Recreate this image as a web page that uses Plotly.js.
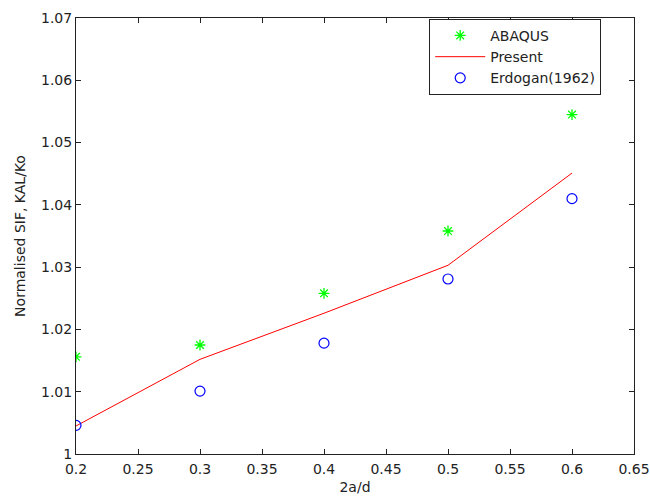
<!DOCTYPE html>
<html><head><meta charset="utf-8">
<script src="https://cdn.plot.ly/plotly-3.0.1.min.js"></script>
<style>html,body{margin:0;padding:0;background:#fff}#c{width:650px;height:502px}</style>
</head><body><div id="c"></div>
<script>
const xVals = [0.2, 0.3, 0.4, 0.5, 0.6];
const abaqus = [1.0156, 1.0175, 1.0258, 1.0358, 1.0545];
const present = [1.0045, 1.0152, 1.0226, 1.0303, 1.0451];
const erdogan = [1.0046, 1.0101, 1.0178, 1.0281, 1.0410];
const xTicks = [0.2,0.25,0.3,0.35,0.4,0.45,0.5,0.55,0.6,0.65];
const yTicks = [1,1.01,1.02,1.03,1.04,1.05,1.06,1.07];

const traces = [
 {x:xVals,y:abaqus,name:'ABAQUS',mode:'markers',type:'scatter',
  marker:{symbol:'asterisk-open',size:9,color:'#00ff00',line:{color:'#00ff00',width:1.3}}},
 {x:xVals,y:present,name:'Present',mode:'lines',type:'scatter',
  line:{color:'#ff0000',width:1}},
 {x:xVals,y:erdogan,name:'Erdogan(1962)',mode:'markers',type:'scatter',
  marker:{symbol:'circle-open',size:10,color:'#0000ff',line:{color:'#0000ff',width:1.2}}}
];
const F = 'DejaVu Sans';
const axisCommon = {showgrid:false,zeroline:false,showline:true,linecolor:'#222',linewidth:1,
  mirror:'ticks',ticks:'inside',ticklen:5,tickcolor:'#222',
  tickfont:{family:F,size:14,color:'#222'}};
const layout = {
 width:650,height:502,margin:{l:76,r:16,t:18,b:48},
 paper_bgcolor:'#fff',plot_bgcolor:'#fff',showlegend:true,
 font:{family:F,size:14,color:'#222'},
 xaxis:Object.assign({},axisCommon,{range:[0.2,0.65],tickvals:xTicks,ticktext:xTicks.map(String),
   ticklabelstandoff:2,
   title:{text:'2a/d',font:{size:14},standoff:6}}),
 yaxis:Object.assign({},axisCommon,{range:[1,1.07],tickvals:yTicks,ticktext:yTicks.map(String),
   title:{text:'Normalised SIF, KAL/Ko',font:{size:14},standoff:12}}),
 legend:{x:0.633,y:0.998,xanchor:'left',yanchor:'top',bordercolor:'#222',borderwidth:1,bgcolor:'#fff',
   font:{size:14},tracegroupgap:0,itemwidth:50}
};
Plotly.newPlot('c',traces,layout,{displayModeBar:false});
</script></body></html>
